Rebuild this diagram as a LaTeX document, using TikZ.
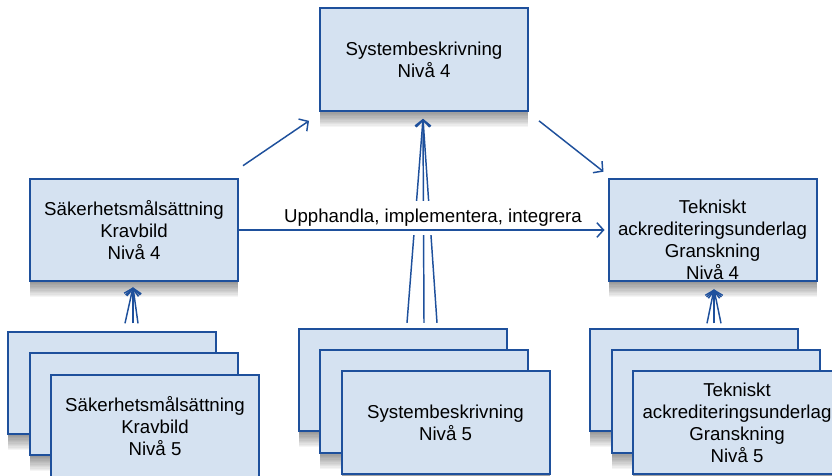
\documentclass[tikz,border=0pt]{standalone}
\usepackage{fontspec}
\setmainfont{Liberation Sans}
\usepackage{xcolor}
\usepackage{tikz}
\usetikzlibrary{arrows.meta, positioning, calc}
\definecolor{boxfill}{RGB}{213,226,241}
\definecolor{boxline}{RGB}{30,80,156}

\begin{document}
\begin{tikzpicture}[
    x=0.75pt, y=-0.75pt,
    shadowlayer/.style={preaction={draw=none, fill=black, fill opacity=0.04, transform canvas={yshift=-#1}}},
    softshadow/.style={shadowlayer=1pt, shadowlayer=2pt, shadowlayer=3pt, shadowlayer=4pt, shadowlayer=5pt, shadowlayer=6pt, shadowlayer=7pt, shadowlayer=8pt, shadowlayer=9pt, shadowlayer=10pt, shadowlayer=11pt, shadowlayer=12pt},
    box/.style={draw=boxline, fill=boxfill, line width=1.5pt, rectangle, minimum width=156pt, minimum height=77pt, align=center, inner sep=0pt, font=\fontsize{14}{16.5}\selectfont, softshadow},
    arrow/.style={-{Straight Barb[length=5pt, width=11pt]}, line width=1.1pt, draw=boxline},
    lbl/.style={fill=white, inner xsep=2pt, inner ysep=6pt, font=\fontsize{14}{16.5}\selectfont}
]
\clip (0,0) rectangle (832,475);
\fill[white] (0,0) rectangle (832,475);

% level 4
\node[box] (sys4) at (424,59.5) {Systembeskrivning\\Nivå 4};
\node[box] (sak4) at (134,230) {Säkerhetsmålsättning\\Kravbild\\Nivå 4};
\node[box] (tek4) at (712.5,230) {\\[8pt]Tekniskt\\ackrediteringsunderlag\\Granskning\\Nivå 4};

% level 5 stacks
\node[box] (sakBack) at (112,383) {};
\node[box] (sakMid) at (134,404) {};
\node[box] (sak5) at (155,426) {Säkerhetsmålsättning\\Kravbild\\Nivå 5};

\node[box] (sysBack) at (402.5,380) {};
\node[box] (sysMid) at (423.5,401.5) {};
\node[box] (sys5) at (445.5,422.5) {Systembeskrivning\\Nivå 5};

\node[box] (tekBack) at (694,380) {};
\node[box] (tekMid) at (715.5,401.5) {};
\node[box] (tek5) at (737,422.5) {Tekniskt\\ackrediteringsunderlag\\Granskning\\Nivå 5};

% arrows between level 4
\draw[arrow] ($(sak4.north east)+(4,-12)$) -- ($(sys4.south west)+(-10,9)$);
\draw[arrow] ($(sys4.south east)+(10,9)$) -- ($(tek4.north west)+(-4,-6)$);

% level 5 -> level 4
\foreach \dx in {-17,0,13}
  \draw[arrow] ($(sys4.south)+(\dx,211)$) -- ($(sys4.south)+(-1,7)$);
\foreach \dx in {-9,-1,4}
  \draw[arrow] ($(sak4.south)+(\dx,41)$) -- ($(sak4.south)+(-1,5)$);
\foreach \dx in {-5.5,1.5,8.5}
  \draw[arrow] ($(tek4.south)+(\dx,41)$) -- ($(tek4.south)+(1.5,7)$);

\node[lbl] (upph) at (433,218) {Upphandla, implementera, integrera};
\draw[arrow] (sak4.east) -- ($(tek4.west)+(-3,0)$);
\end{tikzpicture}
\end{document}
